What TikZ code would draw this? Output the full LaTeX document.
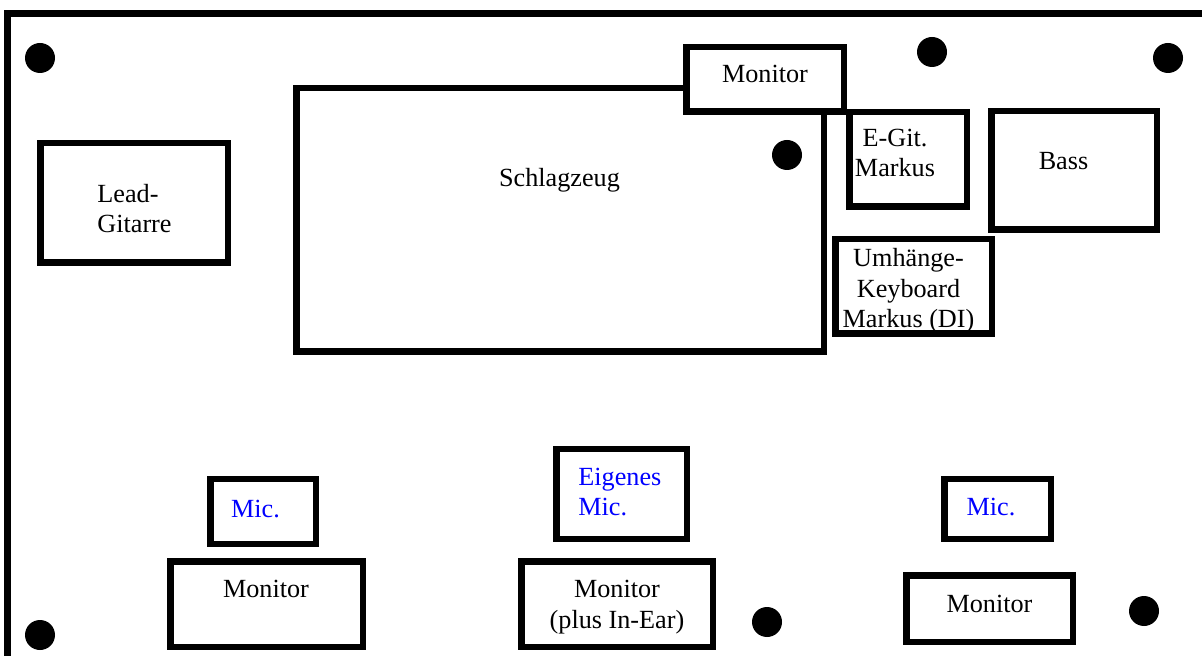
\documentclass[tikz,border=0pt]{standalone}
\usepackage{fontspec}
\setmainfont{Liberation Serif}
\begin{document}
\begin{tikzpicture}[x=0.5pt,y=-0.5pt,
  box/.style={draw=black,line width=3.25pt,fill=white,inner sep=0pt,rectangle},
  dot/.style={circle,fill=black,inner sep=0pt,minimum size=15pt},
  lbl/.style={inner sep=0pt,font=\fontsize{13.1}{15.3}\selectfont},
  blbl/.style={lbl,text=blue}]
\useasboundingbox (0,0) rectangle (1202,656);
% outer frame (continues beyond the picture)
\coordinate (fbl) at (7.5,660);
\coordinate (ftl) at (7.5,13.3);
\coordinate (ftr) at (1206,13.3);
\draw[line width=3.3pt] (fbl) -- (ftl) -- (ftr);
% boxes
\node[box,minimum width=93.75pt,minimum height=59.75pt] (lead) at (134,203) {};
\node[box,minimum width=263.75pt,minimum height=131.75pt] (drums) at (560,220) {};
\node[box,minimum width=78.75pt,minimum height=32.25pt] (montop) at (765,79.5) {};
\node[box,minimum width=58.75pt,minimum height=47.25pt] (egit) at (908,159.5) {};
\node[box,minimum width=82.75pt,minimum height=59.25pt] (bass) at (1074,170.5) {};
\node[box,minimum width=78.25pt,minimum height=47.25pt] (keys) at (913.5,286.5) {};
\node[box,minimum width=52.75pt,minimum height=32.25pt] (micl) at (263,511.5) {};
\node[box,minimum width=96.25pt,minimum height=42.75pt] (monl) at (266.5,604) {};
\node[box,minimum width=65.25pt,minimum height=44.75pt] (micm) at (621.5,494) {};
\node[box,minimum width=95.75pt,minimum height=42.75pt] (monm) at (617,604) {};
\node[box,minimum width=53.25pt,minimum height=29.75pt] (micr) at (997.5,509) {};
\node[box,minimum width=83.25pt,minimum height=33.25pt] (monr) at (989.5,608.5) {};
% labels
\node[lbl,anchor=base west,align=left] (tlead) at (97,233) {Lead-\\Gitarre};
\node[lbl,anchor=base] (tdrums) at (559.5,187) {Schlagzeug};
\node[lbl,anchor=base] (tmontop) at (765,83) {Monitor};
\node[lbl,anchor=base,align=center] (tegit) at (895,177) {E-Git.\\Markus};
\node[lbl,anchor=base] (tbass) at (1063.5,170) {Bass};
\node[lbl,anchor=base,align=center] (tkeys) at (908.5,328) {Umhänge-\\Keyboard\\Markus (DI)};
\node[blbl,anchor=base] (tmicl) at (255.5,517) {Mic.};
\node[lbl,anchor=base] (tmonl) at (266,597) {Monitor};
\node[blbl,anchor=base west,align=left] (tmicm) at (578,516) {Eigenes\\Mic.};
\node[lbl,anchor=base,align=center] (tmonm) at (617,628) {Monitor\\(plus In-Ear)};
\node[blbl,anchor=base] (tmicr) at (991,515) {Mic.};
\node[lbl,anchor=base] (tmonr) at (989.5,612) {Monitor};
% dots
\node[dot] (d1) at (40,58) {};
\node[dot] (d2) at (932,52) {};
\node[dot] (d3) at (1168,58) {};
\node[dot] (d4) at (787,155) {};
\node[dot] (d5) at (40,635) {};
\node[dot] (d6) at (767,622) {};
\node[dot] (d7) at (1144,611) {};
\end{tikzpicture}
\end{document}
